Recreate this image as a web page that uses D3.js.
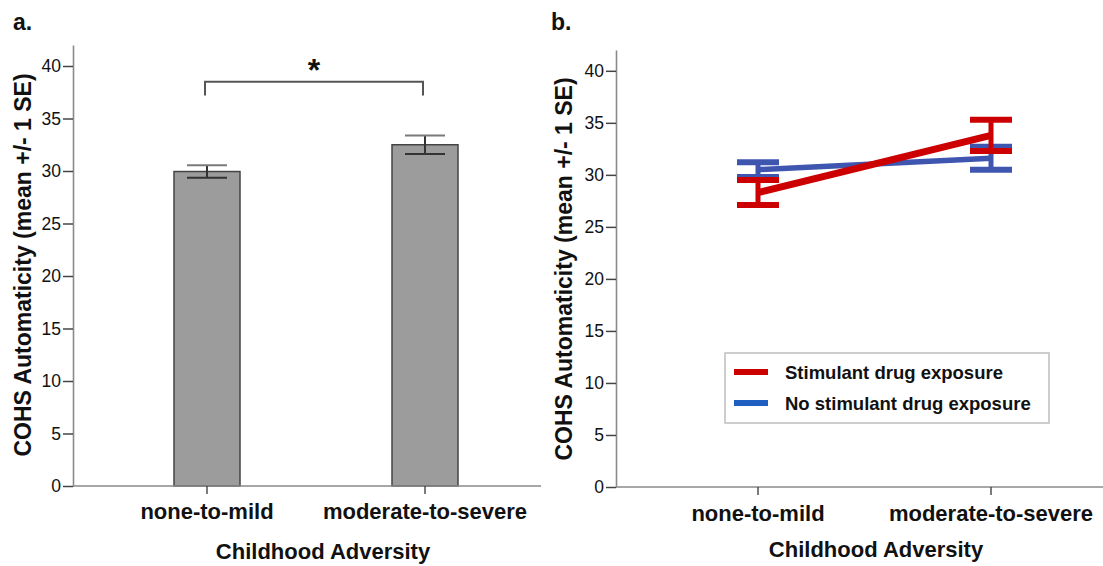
<!DOCTYPE html>
<html>
<head>
<meta charset="utf-8">
<script src="https://d3js.org/d3.v7.min.js"></script>
<style>
  body { margin: 0; background: #fff; }
  svg text { font-family: "Liberation Sans", Arial, sans-serif; fill: #111; }
</style>
</head>
<body>
<svg id="chart" width="1103" height="566"></svg>
<script>
// data
const categories = ["none-to-mild", "moderate-to-severe"];
const yTicks = [0, 5, 10, 15, 20, 25, 30, 35, 40];

// panel a: overall means
const barMeans = [29.95, 32.5];
const barSE = [0.6, 0.87];

// panel b: by stimulant exposure
const seriesNames = ["Stimulant drug exposure", "No stimulant drug exposure"];
const seriesColors = ["#cc0000", "#3f56b0"];
const legendColors = ["#cc0000", "#1f5fc0"];
const stimMeans = [28.3, 33.8];
const stimSE = [1.2, 1.5];
const noStimMeans = [30.5, 31.6];
const noStimSE = [0.7, 1.1];

const svg = d3.select("#chart");
const axisGray = "#8a8a8a";

function drawYAxis(g, y, x0, title, titleX, titleY) {
    const ax = d3.axisLeft(y).tickValues(yTicks).tickSize(10).tickPadding(2).tickSizeOuter(0);
    const a = g.append("g").attr("transform", `translate(${x0},0)`).call(ax);
    a.select(".domain").attr("stroke", axisGray).attr("stroke-width", 1.6);
    a.selectAll(".tick line").attr("stroke", "#444").attr("stroke-width", 1.5);
    a.selectAll(".tick text").style("font-size", "17.5px").attr("fill", "#111");
    g.append("text")
        .attr("transform", `translate(${titleX},${titleY}) rotate(-90)`)
        .attr("text-anchor", "middle")
        .style("font-size", "23px").style("font-weight", "bold")
        .text(title);
}

function drawXAxis(g, x, y0, xStart, xEnd, labelY, title, titleX, titleY) {
    g.append("line")
        .attr("x1", xStart).attr("x2", xEnd).attr("y1", y0).attr("y2", y0)
        .attr("stroke", axisGray).attr("stroke-width", 1.6);
    g.selectAll(null).data(categories).enter().append("line")
        .attr("x1", d => x(d)).attr("x2", d => x(d))
        .attr("y1", y0).attr("y2", y0 + 8)
        .attr("stroke", "#444").attr("stroke-width", 1.4);
    g.selectAll(null).data(categories).enter().append("text")
        .attr("x", d => x(d)).attr("y", labelY)
        .attr("text-anchor", "middle")
        .style("font-size", "22px").style("font-weight", "bold")
        .text(d => d);
    g.append("text")
        .attr("x", titleX).attr("y", titleY)
        .attr("text-anchor", "middle")
        .style("font-size", "22px").style("font-weight", "bold")
        .text(title);
}

// ---------- panel a ----------
const ga = svg.append("g");
const yA = d3.scaleLinear().domain([0, 42]).range([486, 45]);
const xA = d3.scalePoint().domain(categories).range([207, 425]);
const barW = 66, capA = 40;

ga.append("text").attr("x", 13).attr("y", 30)
    .style("font-size", "23px").style("font-weight", "bold").text("a.");

ga.selectAll("rect.bar").data(categories).enter().append("rect")
    .attr("class", "bar")
    .attr("x", d => xA(d) - barW / 2)
    .attr("width", barW)
    .attr("y", (d, i) => yA(barMeans[i]))
    .attr("height", (d, i) => yA(0) - yA(barMeans[i]))
    .attr("fill", "#9c9c9c").attr("stroke", "#444").attr("stroke-width", 1.5);

// error bars
categories.forEach((c, i) => {
    const cx = xA(c), hi = yA(barMeans[i] + barSE[i]), lo = yA(barMeans[i] - barSE[i]);
    ga.append("line").attr("x1", cx).attr("x2", cx).attr("y1", hi).attr("y2", lo)
        .attr("stroke", "#333").attr("stroke-width", 2);
    ga.append("line").attr("x1", cx - capA / 2).attr("x2", cx + capA / 2).attr("y1", hi).attr("y2", hi)
        .attr("stroke", "#7a7a7a").attr("stroke-width", 2);
    ga.append("line").attr("x1", cx - capA / 2).attr("x2", cx + capA / 2).attr("y1", lo).attr("y2", lo)
        .attr("stroke", "#333").attr("stroke-width", 2);
});

drawXAxis(ga, xA, yA(0), 73, 541, 519, "Childhood Adversity", 323, 559);
drawYAxis(ga, yA, 73, "COHS Automaticity (mean +/- 1 SE)", 31, 265);

// significance bracket
const brY = yA(38.5), legY = yA(37.2);
ga.append("path")
    .attr("d", `M${xA(categories[0]) - 2},${legY}V${brY}H${xA(categories[1]) - 2}V${legY}`)
    .attr("fill", "none").attr("stroke", "#555").attr("stroke-width", 2);
ga.append("text")
    .attr("x", (xA(categories[0]) + xA(categories[1])) / 2 - 2).attr("y", 81)
    .attr("text-anchor", "middle")
    .style("font-size", "32px").style("font-weight", "bold").text("*");

// ---------- panel b ----------
const gb = svg.append("g");
const yB = d3.scaleLinear().domain([0, 42]).range([487, 50]);
const xB = d3.scalePoint().domain(categories).range([758, 991]);
const capB = 42;

gb.append("text").attr("x", 551).attr("y", 30)
    .style("font-size", "23px").style("font-weight", "bold").text("b.");

drawXAxis(gb, xB, yB(0), 616, 1103, 521, "Childhood Adversity", 876, 557);
drawYAxis(gb, yB, 616, "COHS Automaticity (mean +/- 1 SE)", 572, 269);

const series = [
    { means: noStimMeans, se: noStimSE, color: seriesColors[1], w: 5.5 },
    { means: stimMeans, se: stimSE, color: seriesColors[0], w: 7 }
];
const line = d3.line().x((d, i) => xB(categories[i])).y(d => yB(d));

series.forEach(s => {
    categories.forEach((c, i) => {
        const cx = xB(c), hi = yB(s.means[i] + s.se[i]), lo = yB(s.means[i] - s.se[i]);
        gb.append("line").attr("x1", cx).attr("x2", cx).attr("y1", hi).attr("y2", lo)
            .attr("stroke", s.color).attr("stroke-width", 5);
        [hi, lo].forEach(yy => {
            gb.append("line").attr("x1", cx - capB / 2).attr("x2", cx + capB / 2)
                .attr("y1", yy).attr("y2", yy)
                .attr("stroke", s.color).attr("stroke-width", 6);
        });
    });
    gb.append("path").datum(s.means).attr("d", line)
        .attr("fill", "none").attr("stroke", s.color).attr("stroke-width", s.w);
});

// legend
const lg = gb.append("g").attr("transform", "translate(725,353)");
lg.append("rect").attr("width", 324).attr("height", 70)
    .attr("fill", "#fff").attr("stroke", "#bdbdbd").attr("stroke-width", 1.5);
seriesNames.forEach((n, i) => {
    const yy = 19 + i * 31;
    lg.append("line").attr("x1", 9).attr("x2", 43).attr("y1", yy).attr("y2", yy)
        .attr("stroke", legendColors[i]).attr("stroke-width", 6);
    lg.append("text").attr("x", 60).attr("y", yy + 6.5)
        .style("font-size", "18.5px").style("font-weight", "bold").text(n);
});
</script>
</body>
</html>
